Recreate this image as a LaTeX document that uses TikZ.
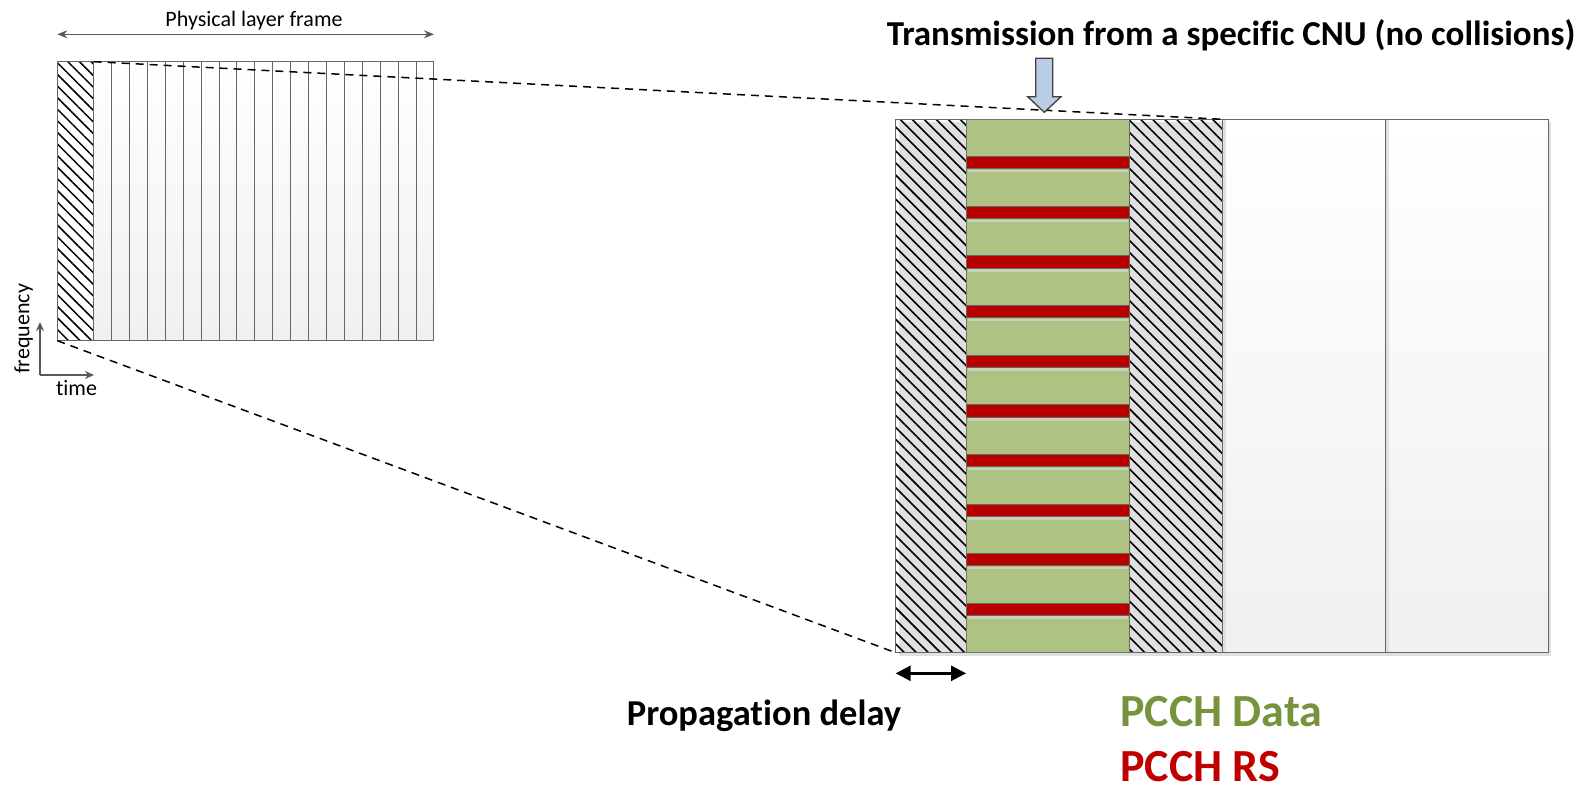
\documentclass[tikz,border=0pt]{standalone}
\usepackage{fontspec}
\setmainfont[Ligatures=NoCommon]{Carlito}
\usetikzlibrary{arrows.meta,patterns.meta,calc}
\definecolor{gbord}{HTML}{666666}
\definecolor{darkgray}{HTML}{595959}
\definecolor{pgreen}{HTML}{ADC283}
\definecolor{pred}{HTML}{B80000}
\definecolor{lightline}{HTML}{C9D1B6}
\definecolor{arrowblue}{HTML}{B9CDE5}
\definecolor{legendgreen}{HTML}{77933C}
\definecolor{legendred}{HTML}{C00000}
\definecolor{shadowgray}{HTML}{E0E0E0}
\tikzset{
  cell/.style={draw=gbord, line width=1pt, inner sep=0pt, outer sep=0pt, anchor=north west},
  hatchsmall/.style={cell, pattern={Lines[angle=-45,distance=8.2pt,line width=1.5pt]}},
  hatchbig/.style={cell, pattern={Lines[angle=-45,distance=8.5pt,line width=1.6pt]}},
  whitecol/.style={cell, top color=white, bottom color=black!6},
  greenrow/.style={cell, draw=black!55, line width=0.8pt, fill=pgreen},
  redrow/.style={cell, draw=black!60, line width=0.8pt, fill=pred},
  dashline/.style={line width=1.5pt, dash pattern=on 8pt off 6pt},
  grayarrow/.style={draw=darkgray, line width=1.5pt},
  smalltext/.style={font=\fontsize{22}{26}\selectfont, inner sep=0pt},
}
\begin{document}
\begin{tikzpicture}[x=1pt,y=-1pt]
\useasboundingbox (0,0) rectangle (1579,794);

% ---------- small frame ----------
\node[hatchsmall, minimum width=36.4pt, minimum height=279pt] (sh) at (57.3,61.7) {};
\foreach \i in {0,...,18}{
  \node[whitecol, minimum width=17.91pt, minimum height=279pt] (s\i) at ({93.7+\i*17.91},61.7) {};
}

% frame-length arrow
\coordinate (pf1) at (57.3,34.3);
\coordinate (pf2) at (434,34.3);
\draw[grayarrow, {Stealth[length=10pt,width=8pt]}-{Stealth[length=10pt,width=8pt]}] (pf1) -- (pf2);
\node[smalltext, anchor=base] (pft) at (254,26.7) {Physical layer frame};

% axes
\coordinate (ax0) at (40,375);
\coordinate (axf) at (40,322);
\coordinate (axt) at (94,375);
\draw[grayarrow, -{Stealth[length=9pt,width=8pt]}] (ax0) -- (axf);
\draw[grayarrow, -{Stealth[length=9pt,width=8pt]}] (ax0) -- (axt);
\node[smalltext, anchor=base, rotate=90] (freq) at (29.3,329) {frequency};
\node[smalltext, anchor=base] (time) at (76.5,395) {time};

% ---------- big frame ----------
\fill[shadowgray] (898.7,122.3) rectangle (1551.3,656);
\node[hatchbig, minimum width=70.3pt, minimum height=533.4pt] (hb1) at (895.7,119.3) {};
\node[cell, fill=pgreen, minimum width=163.3pt, minimum height=533.4pt] (gcol) at (966,119.3) {};
\foreach \i in {0,...,10}{
  \node[greenrow, minimum width=163.3pt, minimum height=37.4pt] (g\i) at (966,{119.3+\i*49.6}) {};
}
\foreach \i in {0,...,9}{
  \node[redrow, minimum width=163.3pt, minimum height=12.2pt] (r\i) at (966,{156.7+\i*49.6}) {};
  \fill[lightline] (967.5,{170+\i*49.6}) rectangle (1128,{172.5+\i*49.6});
}
\node[hatchbig, minimum width=93pt, minimum height=533.4pt] (hb2) at (1129.3,119.3) {};
\node[whitecol, minimum width=163.2pt, minimum height=533.4pt] (wc1) at (1222.3,119.3) {};
\fill[shadowgray] (1223,120) rectangle (1226,652);
\node[whitecol, minimum width=162.8pt, minimum height=533.4pt] (wc2) at (1385.5,119.3) {};
\fill[shadowgray] (1386.2,120) rectangle (1389.2,652);

% dashed zoom lines
\draw[dashline] (sh.north east) -- (hb2.north east);
\draw[dashline] (sh.south west) -- (hb1.south west);

% blue block arrow
\draw[draw=black!75, line width=1.3pt, fill=arrowblue, line join=miter]
  (1035.7,58.3) -- (1052.7,58.3) -- (1052.7,96.7) -- (1061,96.7) -- (1044.3,112.3)
  -- (1027.7,96.7) -- (1035.7,96.7) -- cycle;
\node[font=\bfseries\fontsize{35}{40}\selectfont, inner sep=0pt, anchor=base] (title) at (1231,46)
  {Transmission from a specific CNU (no collisions)};

% propagation delay
\coordinate (pd1) at (895.7,673.3);
\coordinate (pd2) at (966,673.3);
\draw[line width=2.6pt, {Triangle[length=15pt,width=15pt]}-{Triangle[length=15pt,width=15pt]}] (pd1) -- (pd2);
\node[font=\bfseries\fontsize{36.5}{40}\selectfont, inner sep=0pt, anchor=base] (pdt) at (764,725.7) {Propagation delay};

% legend
\node[font=\bfseries\fontsize{46}{50}\selectfont, text=legendgreen, inner sep=0pt, anchor=base west] (lg) at (1120,726) {PCCH Data};
\node[font=\bfseries\fontsize{46}{50}\selectfont, text=legendred, inner sep=0pt, anchor=base west] (lr) at (1120,781) {PCCH RS};
\end{tikzpicture}
\end{document}
